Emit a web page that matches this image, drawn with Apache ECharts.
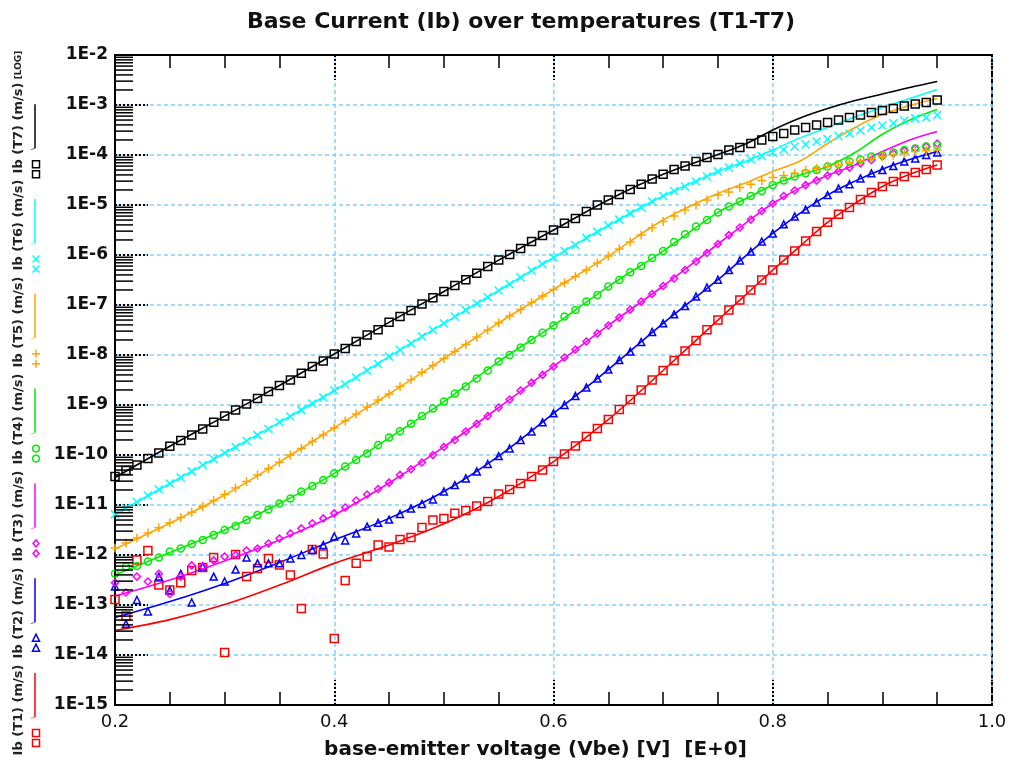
<!DOCTYPE html>
<html><head><meta charset="utf-8">
<script src="https://cdn.jsdelivr.net/npm/echarts@6/dist/echarts.min.js"></script>
<style>html,body{margin:0;padding:0;background:#fff}#c{width:1012px;height:766px}</style>
</head><body><div id="c"></div>
<script>
// ---------- data ----------
const measV = [0.20,0.21,0.22,0.23,0.24,0.25,0.26,0.27,0.28,0.29,0.30,0.31,0.32,0.33,0.34,0.35,0.36,0.37,0.38,0.39,
  0.40,0.41,0.42,0.43,0.44,0.45,0.46,0.47,0.48,0.49,0.50,0.51,0.52,0.53,0.54,0.55,0.56,0.57,0.58,0.59,
  0.60,0.61,0.62,0.63,0.64,0.65,0.66,0.67,0.68,0.69,0.70,0.71,0.72,0.73,0.74,0.75,0.76,0.77,0.78,0.79,
  0.80,0.81,0.82,0.83,0.84,0.85,0.86,0.87,0.88,0.89,0.90,0.91,0.92,0.93,0.94,0.95];
const lineV = [0.20,0.25,0.30,0.35,0.40,0.45,0.50,0.55,0.60,0.65,0.70,0.75,0.775,0.80,0.825,0.85,0.875,0.90,0.925,0.95];

const t7Meas = [3.7e-11,4.9e-11,6.3e-11,8.5e-11,1.1e-10,1.5e-10,1.95e-10,2.5e-10,3.3e-10,4.5e-10,
  6.0e-10,7.9e-10,1.05e-9,1.35e-9,1.86e-9,2.45e-9,3.16e-9,4.3e-9,5.9e-9,7.6e-9,
  1.05e-8,1.35e-8,1.86e-8,2.5e-8,3.2e-8,4.5e-8,5.9e-8,7.8e-8,1.05e-7,1.4e-7,
  1.86e-7,2.45e-7,3.2e-7,4.3e-7,5.9e-7,7.9e-7,1.02e-6,1.35e-6,1.86e-6,2.45e-6,
  3.16e-6,4.3e-6,5.4e-6,7.4e-6,1.0e-5,1.26e-5,1.62e-5,2.04e-5,2.6e-5,3.3e-5,
  4.1e-5,5.1e-5,6.0e-5,7.4e-5,8.9e-5,1.02e-4,1.26e-4,1.41e-4,1.7e-4,2.0e-4,
  2.34e-4,2.7e-4,3.16e-4,3.55e-4,3.98e-4,4.47e-4,5.0e-4,5.6e-4,6.3e-4,7.1e-4,
  7.8e-4,8.5e-4,9.5e-4,1.05e-3,1.12e-3,1.26e-3];
const t6Meas = [6.5e-12,8.7e-12,1.15e-11,1.55e-11,2.04e-11,2.7e-11,3.55e-11,4.7e-11,6.3e-11,8.3e-11,
  1.1e-10,1.45e-10,1.9e-10,2.5e-10,3.3e-10,4.5e-10,5.9e-10,7.9e-10,1.07e-9,1.41e-9,
  1.95e-9,2.6e-9,3.55e-9,4.9e-9,6.6e-9,9.3e-9,1.26e-8,1.7e-8,2.34e-8,3.16e-8,
  4.3e-8,5.9e-8,7.9e-8,1.07e-7,1.45e-7,1.95e-7,2.6e-7,3.55e-7,4.9e-7,6.6e-7,
  8.9e-7,1.2e-6,1.58e-6,2.2e-6,2.9e-6,3.9e-6,5.1e-6,6.8e-6,8.9e-6,1.17e-5,
  1.51e-5,1.9e-5,2.34e-5,2.95e-5,3.7e-5,4.7e-5,5.6e-5,6.8e-5,8.1e-5,9.5e-5,
  1.12e-4,1.29e-4,1.48e-4,1.62e-4,1.86e-4,2.09e-4,2.4e-4,2.7e-4,3.1e-4,3.55e-4,
  3.9e-4,4.3e-4,4.9e-4,5.4e-4,5.6e-4,6.3e-4];
const t5Meas = [1.38e-12,1.74e-12,2.2e-12,2.75e-12,3.5e-12,4.4e-12,5.6e-12,7.2e-12,9.3e-12,1.23e-11,
  1.62e-11,2.2e-11,2.95e-11,4.0e-11,5.4e-11,7.2e-11,1.0e-10,1.35e-10,1.86e-10,2.5e-10,
  3.5e-10,4.8e-10,6.6e-10,9.1e-10,1.26e-9,1.66e-9,2.34e-9,3.2e-9,4.5e-9,6.2e-9,
  8.5e-9,1.17e-8,1.62e-8,2.3e-8,3.16e-8,4.4e-8,6.0e-8,8.1e-8,1.12e-7,1.51e-7,
  2.04e-7,2.75e-7,3.7e-7,5.0e-7,6.9e-7,9.5e-7,1.32e-6,1.82e-6,2.5e-6,3.5e-6,
  4.7e-6,6.0e-6,7.9e-6,1.0e-5,1.26e-5,1.58e-5,1.82e-5,2.24e-5,2.6e-5,3.1e-5,
  3.55e-5,3.9e-5,4.3e-5,4.9e-5,5.4e-5,5.9e-5,6.3e-5,7.1e-5,7.6e-5,8.5e-5,
  9.3e-5,1.0e-4,1.07e-4,1.17e-4,1.23e-4,1.26e-4];
const t4Meas = [4.2e-13,5.9e-13,6.0e-13,7.4e-13,8.9e-13,1.17e-12,1.35e-12,1.66e-12,2.0e-12,2.5e-12,
  3.16e-12,3.8e-12,5.0e-12,6.3e-12,8.1e-12,1.07e-11,1.35e-11,1.86e-11,2.4e-11,3.16e-11,
  4.3e-11,5.9e-11,7.9e-11,1.07e-10,1.58e-10,2.24e-10,3.0e-10,4.2e-10,6.0e-10,8.5e-10,
  1.17e-9,1.7e-9,2.34e-9,3.4e-9,4.9e-9,7.4e-9,1.0e-8,1.41e-8,2.0e-8,2.8e-8,
  3.9e-8,5.9e-8,7.9e-8,1.17e-7,1.58e-7,2.34e-7,3.16e-7,4.5e-7,6.0e-7,8.7e-7,
  1.2e-6,1.82e-6,2.6e-6,3.7e-6,5.0e-6,7.1e-6,9.3e-6,1.17e-5,1.51e-5,1.9e-5,
  2.5e-5,3.1e-5,3.7e-5,4.3e-5,5.0e-5,5.9e-5,6.5e-5,7.4e-5,8.1e-5,9.3e-5,
  1.0e-4,1.12e-4,1.26e-4,1.35e-4,1.48e-4,1.58e-4];
const t3Meas = [2.8e-13,1.78e-13,3.7e-13,2.95e-13,4.2e-13,1.66e-13,3.7e-13,6.2e-13,5.9e-13,7.8e-13,
  9.3e-13,1.0e-12,1.23e-12,1.35e-12,1.7e-12,2.14e-12,2.7e-12,3.4e-12,4.3e-12,5.4e-12,
  6.8e-12,8.9e-12,1.23e-11,1.62e-11,2.09e-11,2.8e-11,4.0e-11,5.2e-11,7.1e-11,1.0e-10,
  1.45e-10,2.0e-10,2.95e-10,4.2e-10,6.0e-10,8.9e-10,1.29e-9,1.95e-9,2.8e-9,4.0e-9,
  5.9e-9,8.9e-9,1.29e-8,1.86e-8,2.7e-8,3.9e-8,5.6e-8,8.1e-8,1.17e-7,1.66e-7,
  2.4e-7,3.4e-7,5.0e-7,7.4e-7,1.1e-6,1.66e-6,2.5e-6,3.55e-6,5.1e-6,7.6e-6,
  1.07e-5,1.51e-5,1.95e-5,2.5e-5,3.1e-5,3.9e-5,4.7e-5,5.6e-5,6.8e-5,7.9e-5,
  9.3e-5,1.07e-4,1.23e-4,1.35e-4,1.48e-4,1.7e-4];
const t2Meas = [2.34e-13,4.2e-14,1.26e-13,7.4e-14,3.7e-13,1.95e-13,4.2e-13,1.12e-13,5.9e-13,3.7e-13,
  2.95e-13,5.1e-13,8.9e-13,6.8e-13,6.8e-13,6.8e-13,8.5e-13,1.0e-12,1.26e-12,1.58e-12,
  2.34e-12,1.95e-12,2.7e-12,3.7e-12,4.4e-12,5.1e-12,6.6e-12,8.5e-12,1.05e-11,1.29e-11,
  1.86e-11,2.5e-11,3.4e-11,4.7e-11,6.6e-11,9.5e-11,1.35e-10,2.0e-10,2.95e-10,4.5e-10,
  6.8e-10,1.0e-9,1.51e-9,2.24e-9,3.4e-9,5.1e-9,7.9e-9,1.17e-8,1.82e-8,2.9e-8,
  4.3e-8,6.5e-8,9.5e-8,1.48e-7,2.24e-7,3.2e-7,5.0e-7,7.8e-7,1.17e-6,1.86e-6,
  2.7e-6,4.1e-6,5.9e-6,8.1e-6,1.12e-5,1.58e-5,2.14e-5,2.6e-5,3.4e-5,4.3e-5,
  5.0e-5,6.0e-5,7.4e-5,8.5e-5,1.0e-4,1.12e-4];
const t1Meas = [1.29e-13,6.0e-14,7.9e-13,1.23e-12,2.5e-13,2.0e-13,2.8e-13,4.9e-13,5.6e-13,8.9e-13,
  1.12e-14,1.02e-12,3.7e-13,5.4e-13,8.5e-13,6.3e-13,4.0e-13,8.5e-14,1.29e-12,1.05e-12,
  2.14e-14,3.1e-13,6.8e-13,9.3e-13,1.58e-12,1.45e-12,2.04e-12,2.24e-12,3.55e-12,5.0e-12,
  5.4e-12,6.8e-12,7.8e-12,9.5e-12,1.17e-11,1.66e-11,2.04e-11,2.7e-11,3.7e-11,5.0e-11,
  7.4e-11,1.05e-10,1.51e-10,2.34e-10,3.4e-10,5.1e-10,8.1e-10,1.29e-9,2.0e-9,3.16e-9,
  4.9e-9,7.8e-9,1.2e-8,1.95e-8,3.2e-8,5.0e-8,7.9e-8,1.26e-7,2.0e-7,3.16e-7,
  5.0e-7,7.9e-7,1.2e-6,1.9e-6,2.95e-6,4.5e-6,6.5e-6,8.9e-6,1.29e-5,1.78e-5,
  2.34e-5,2.95e-5,3.7e-5,4.47e-5,5.1e-5,6.3e-5];

const t7Line = [3.55e-11,1.5e-10,6.0e-10,2.45e-9,1.05e-8,4.5e-8,1.86e-7,7.9e-7,3.16e-6,1.26e-5,4.1e-5,1.02e-4,1.66e-4,3.16e-4,5.5e-4,8.5e-4,1.23e-3,1.66e-3,2.24e-3,2.95e-3];
const t6Line = [6.5e-12,2.7e-11,1.1e-10,4.5e-10,1.95e-9,9.3e-9,4.3e-8,1.95e-7,8.9e-7,3.9e-6,1.51e-5,4.7e-5,7.4e-5,1.26e-4,2.2e-4,3.55e-4,5.75e-4,8.9e-4,1.35e-3,2.04e-3];
const t5Line = [1.32e-12,4.3e-12,1.58e-11,7.2e-11,3.5e-10,1.66e-9,8.5e-9,4.4e-8,2.04e-7,9.5e-7,5.0e-6,1.7e-5,2.75e-5,4.7e-5,7.6e-5,1.7e-4,3.55e-4,6.5e-4,9.8e-4,1.35e-3];
const t4Line = [4.0e-13,1.12e-12,3.16e-12,1.07e-11,4.3e-11,2.2e-10,1.17e-9,7.4e-9,3.9e-8,2.34e-7,1.2e-6,7.1e-6,1.32e-5,2.5e-5,4.0e-5,5.9e-5,1.12e-4,2.6e-4,5.0e-4,8.1e-4];
const t3Line = [1.51e-13,3.16e-13,7.6e-13,2.0e-12,6.3e-12,2.75e-11,1.45e-10,8.9e-10,5.9e-9,3.9e-8,2.4e-7,1.66e-6,4.3e-6,1.07e-5,2.2e-5,3.9e-5,6.3e-5,1.17e-4,2.0e-4,2.95e-4];
const t2Line = [5.6e-14,1.17e-13,2.7e-13,7.1e-13,2.0e-12,5.4e-12,1.86e-11,9.5e-11,6.8e-10,5.1e-9,4.3e-8,3.2e-7,9.5e-7,2.7e-6,6.9e-6,1.58e-5,3.0e-5,5.2e-5,8.1e-5,1.17e-4];
const t1Line = [3.1e-14,5.1e-14,1.02e-13,2.5e-13,6.8e-13,1.58e-12,4.2e-12,1.48e-11,7.4e-11,5.1e-10,4.9e-9,5.0e-8,1.58e-7,5.0e-7,1.51e-6,4.5e-6,1.07e-5,2.34e-5,4.1e-5,6.3e-5];

const seriesNames = ['Ib (T1) (m/s)','Ib (T2) (m/s)','Ib (T3) (m/s)','Ib (T4) (m/s)','Ib (T5) (m/s)','Ib (T6) (m/s)','Ib (T7) (m/s)'];
const xTickLabels = [0.2, 0.4, 0.6, 0.8, 1.0];
const yDecadeExps = [-15,-14,-13,-12,-11,-10,-9,-8,-7,-6,-5,-4,-3,-2];

// ---------- styling ----------
const colors = ['#ff0000','#0000ff','#ff00ff','#00ee00','#ffa500','#00ffff','#000000'];
const SQ = 'rect';
const XS = 'path://M0,0L10,10M10,0L0,10';
const PL = 'path://M5,0L5,10M0,5L10,5';
const symbols = [SQ, 'triangle', 'diamond', 'circle', PL, XS, SQ];
const symSizes = [8, 7, 7, 7, 9, 8, 8];
const measAll = [t1Meas, t2Meas, t3Meas, t4Meas, t5Meas, t6Meas, t7Meas];
const lineAll = [t1Line, t2Line, t3Line, t4Line, t5Line, t6Line, t7Line];
const FONT = '"DejaVu Sans", "Liberation Sans", sans-serif';

const series = [];
// minor log ticks on the left axis (2..9 x 10^n), placed through the axis scale
const minorTickVals = [];
yDecadeExps.slice(0, -1).forEach(e => { for (let m = 2; m <= 9; m++) minorTickVals.push(m * Math.pow(10, e)); });
series.push({
  type: 'custom', silent: true, clip: false, z: 5,
  data: minorTickVals.map(v => [0.2, v]),
  renderItem: (params, api) => {
    const p = api.coord([0.2, api.value(1)]);
    return { type: 'line', shape: { x1: p[0], y1: p[1], x2: p[0] + 18, y2: p[1] },
      style: { stroke: '#000', lineWidth: 1.5 } };
  }
});
for (let i = 0; i < 7; i++) {
  series.push({
    name: seriesNames[i], type: 'line', smooth: 0.35, showSymbol: false, z: 3,
    data: lineV.map((v, j) => [v, lineAll[i][j]]),
    lineStyle: { color: colors[i], width: 1.6 }, itemStyle: { color: colors[i] }
  });
}
for (let i = 0; i < 7; i++) {
  series.push({
    name: seriesNames[i], type: 'scatter', z: 4,
    data: measV.map((v, j) => [v, measAll[i][j]]),
    symbol: symbols[i], symbolSize: symSizes[i],
    itemStyle: { color: 'rgba(0,0,0,0)', borderColor: colors[i], borderWidth: 1.5, opacity: 1 }
  });
}

// ---------- rotated legend on the left ----------
const graphic = [];
function marker(kind, cx, cy, c) {
  const st = { fill: 'none', stroke: c, lineWidth: 1.5 };
  if (kind === 0 || kind === 6) return { type: 'rect', shape: { x: cx - 3.5, y: cy - 3.5, width: 7, height: 7 }, style: st };
  if (kind === 1) return { type: 'polygon', shape: { points: [[cx, cy - 4], [cx + 3.5, cy + 3], [cx - 3.5, cy + 3]] }, style: st };
  if (kind === 2) return { type: 'polygon', shape: { points: [[cx, cy - 3.5], [cx + 3, cy], [cx, cy + 3.5], [cx - 3, cy]] }, style: st };
  if (kind === 3) return { type: 'circle', shape: { cx: cx, cy: cy, r: 3.3 }, style: st };
  if (kind === 4) return { type: 'group', children: [
    { type: 'line', shape: { x1: cx - 4, y1: cy, x2: cx + 4, y2: cy }, style: st },
    { type: 'line', shape: { x1: cx, y1: cy - 4, x2: cx, y2: cy + 4 }, style: st } ] };
  return { type: 'group', children: [
    { type: 'line', shape: { x1: cx - 3.5, y1: cy - 3.5, x2: cx + 3.5, y2: cy + 3.5 }, style: st },
    { type: 'line', shape: { x1: cx - 3.5, y1: cy + 3.5, x2: cx + 3.5, y2: cy - 3.5 }, style: st } ] };
}
for (let i = 0; i < 7; i++) {
  const top = 673 - 94.8 * i;
  const tc = 710 - 97 * i;
  graphic.push({ type: 'text', x: 19, y: tc, rotation: Math.PI / 2,
    style: { text: seriesNames[i], fill: '#222', fontSize: 13, fontWeight: 'bold', fontFamily: FONT,
      align: 'center', verticalAlign: 'middle', textAlign: 'center', textVerticalAlign: 'middle' } });
  graphic.push({ type: 'line', shape: { x1: 35, y1: top, x2: 35, y2: top + 44 }, style: { stroke: colors[i], lineWidth: 1.5 } });
  graphic.push({ type: 'line', shape: { x1: 35, y1: top + 44, x2: 31, y2: top + 45.5 }, style: { stroke: colors[i], lineWidth: 1, opacity: 0.6 } });
  graphic.push(marker(i, 36, top + 60, colors[i]));
  graphic.push(marker(i, 36, top + 70, colors[i]));
}
graphic.push({ type: 'text', x: 19, y: 65, rotation: Math.PI / 2,
  style: { text: '[LOG]', fill: '#222', fontSize: 9, fontWeight: 'bold', fontFamily: FONT,
    align: 'center', verticalAlign: 'middle', textAlign: 'center', textVerticalAlign: 'middle' } });

const gridLine = { color: '#87cefa', width: 1.5, type: [4, 3] };
const option = {
  backgroundColor: '#fff',
  animation: false,
  title: { text: 'Base Current (Ib) over temperatures (T1-T7)', left: 516, textAlign: 'center', top: 6,
    textStyle: { fontFamily: FONT, fontSize: 22, fontWeight: 'bold', color: '#111' } },
  grid: { left: 115, top: 55, width: 877, height: 650, show: true, borderColor: '#000', borderWidth: 2, backgroundColor: 'transparent' },
  xAxis: [{
    type: 'value', min: 0.2, max: 1.0, interval: 0.2, position: 'bottom',
    name: 'base-emitter voltage (Vbe) [V]  [E+0]', nameLocation: 'middle', nameGap: 35,
    nameTextStyle: { fontFamily: FONT, fontSize: 20, fontWeight: 'bold', color: '#111', padding: [0, 36, 0, 0] },
    axisLine: { show: true, lineStyle: { color: '#000', width: 2 } },
    axisTick: { show: true, inside: true, length: 25, lineStyle: { color: '#000', width: 2, type: 'dotted' } },
    minorTick: { show: true, splitNumber: 4, length: 13, lineStyle: { color: '#000', width: 1.5 } },
    axisLabel: { fontFamily: FONT, fontSize: 18, color: '#111', margin: 8, formatter: v => v.toFixed(1) },
    splitLine: { show: true, lineStyle: gridLine }
  }, {
    type: 'value', min: 0.2, max: 1.0, interval: 0.2, position: 'top',
    axisLine: { show: true, lineStyle: { color: '#000', width: 2 } },
    axisTick: { show: true, inside: true, length: 25, lineStyle: { color: '#000', width: 2, type: 'dotted' } },
    minorTick: { show: true, splitNumber: 4, length: 13, lineStyle: { color: '#000', width: 1.5 } },
    axisLabel: { show: false }, splitLine: { show: false }
  }],
  yAxis: [{
    type: 'log', logBase: 10, min: 1e-15, max: 1e-2, interval: 1,
    axisLine: { show: true, lineStyle: { color: '#000', width: 2 } },
    axisTick: { show: true, inside: true, length: 33, lineStyle: { color: '#000', width: 2, type: 'dotted' } },
    minorTick: { show: false },
    axisLabel: { fontFamily: FONT, fontSize: 17, fontWeight: 'bold', color: '#111', margin: 7,
      formatter: v => '1E' + Math.round(Math.log10(v)) },
    splitLine: { show: true, lineStyle: gridLine }
  }],
  graphic: graphic,
  series: series
};
const chart = echarts.init(document.getElementById('c'), null, { renderer: 'canvas' });
chart.setOption(option);
</script>
</body></html>
